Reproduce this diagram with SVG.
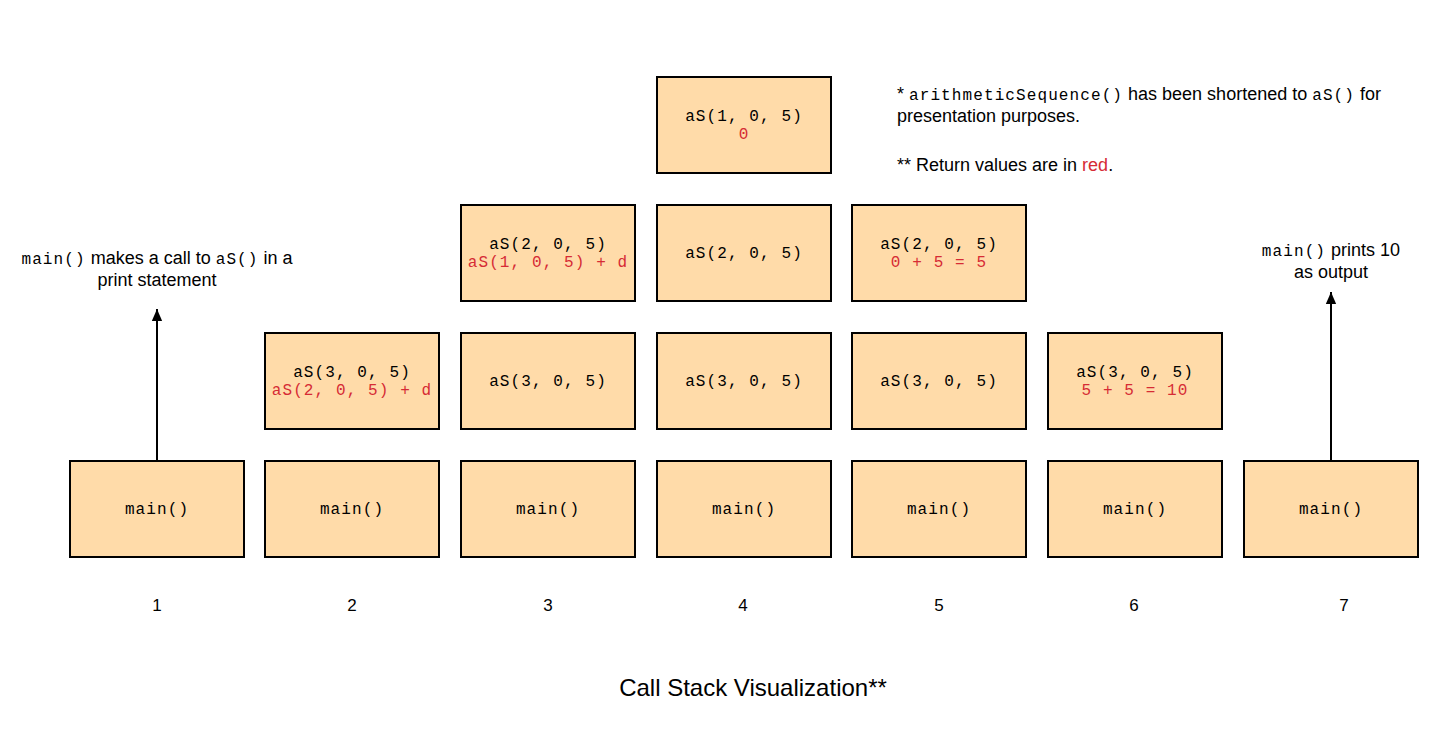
<svg xmlns="http://www.w3.org/2000/svg" width="1446" height="740" viewBox="0 0 1446 740">
<style>
.box{fill:#ffdba9;stroke:#000;stroke-width:2}
.code{font-family:"Liberation Mono",monospace;font-size:16px;letter-spacing:1.1px;fill:#000;text-anchor:middle}
.red{fill:#d62b35}
.sans{font-family:"Liberation Sans",Arial,sans-serif;font-size:18px;fill:#000}
.mono{font-family:"Liberation Mono",monospace;font-size:16px;letter-spacing:1.1px}
.num{font-family:"Liberation Sans",Arial,sans-serif;font-size:17px;fill:#000;text-anchor:middle}
.conn{stroke:#000;stroke-width:2;fill:none}
</style>
<defs>
<marker id="ah" markerWidth="12" markerHeight="14" refX="14" refY="6" orient="auto" markerUnits="userSpaceOnUse" viewBox="0 0 14 12">
<path d="M0,0 L14,6 L0,12 z" fill="#000"/>
</marker>
</defs>
<rect width="1446" height="740" fill="#fff"/>
<g id="connectors">
<line class="conn" x1="157" y1="461" x2="157" y2="309" marker-end="url(#ah)"/>
<line class="conn" x1="1331" y1="461" x2="1331" y2="292" marker-end="url(#ah)"/>
</g>
<g id="main1"><rect class="box" x="70" y="461" width="174" height="96"/><text class="code" x="157" y="514">main()</text></g>
<g id="main2"><rect class="box" x="265" y="461" width="174" height="96"/><text class="code" x="352" y="514">main()</text></g>
<g id="aS3_c2"><rect class="box" x="265" y="333" width="174" height="96"/><text class="code" x="352" y="377">aS(3, 0, 5)</text><text class="code red" x="352" y="395">aS(2, 0, 5) + d</text></g>
<g id="main3"><rect class="box" x="461" y="461" width="174" height="96"/><text class="code" x="548" y="514">main()</text></g>
<g id="aS3_c3"><rect class="box" x="461" y="333" width="174" height="96"/><text class="code" x="548" y="386">aS(3, 0, 5)</text></g>
<g id="aS2_c3"><rect class="box" x="461" y="205" width="174" height="96"/><text class="code" x="548" y="249">aS(2, 0, 5)</text><text class="code red" x="548" y="267">aS(1, 0, 5) + d</text></g>
<g id="main4"><rect class="box" x="657" y="461" width="174" height="96"/><text class="code" x="744" y="514">main()</text></g>
<g id="aS3_c4"><rect class="box" x="657" y="333" width="174" height="96"/><text class="code" x="744" y="386">aS(3, 0, 5)</text></g>
<g id="aS2_c4"><rect class="box" x="657" y="205" width="174" height="96"/><text class="code" x="744" y="258">aS(2, 0, 5)</text></g>
<g id="aS1_c4"><rect class="box" x="657" y="77" width="174" height="96"/><text class="code" x="744" y="121">aS(1, 0, 5)</text><text class="code red" x="744" y="139">0</text></g>
<g id="main5"><rect class="box" x="852" y="461" width="174" height="96"/><text class="code" x="939" y="514">main()</text></g>
<g id="aS3_c5"><rect class="box" x="852" y="333" width="174" height="96"/><text class="code" x="939" y="386">aS(3, 0, 5)</text></g>
<g id="aS2_c5"><rect class="box" x="852" y="205" width="174" height="96"/><text class="code" x="939" y="249">aS(2, 0, 5)</text><text class="code red" x="939" y="267">0 + 5 = 5</text></g>
<g id="main6"><rect class="box" x="1048" y="461" width="174" height="96"/><text class="code" x="1135" y="514">main()</text></g>
<g id="aS3_c6"><rect class="box" x="1048" y="333" width="174" height="96"/><text class="code" x="1135" y="377">aS(3, 0, 5)</text><text class="code red" x="1135" y="395">5 + 5 = 10</text></g>
<g id="main7"><rect class="box" x="1244" y="461" width="174" height="96"/><text class="code" x="1331" y="514">main()</text></g>
<g id="note1">
<text class="sans" x="157" y="264" text-anchor="middle"><tspan class="mono">main()</tspan> makes a call to <tspan class="mono">aS()</tspan> in a</text>
<text class="sans" x="157" y="286" text-anchor="middle">print statement</text>
</g>
<g id="note7">
<text class="sans" x="1331" y="256" text-anchor="middle"><tspan class="mono">main()</tspan> prints 10</text>
<text class="sans" x="1331" y="278" text-anchor="middle">as output</text>
</g>
<g id="legend">
<text class="sans" x="897" y="100">* <tspan class="mono">arithmeticSequence()</tspan> has been shortened to <tspan class="mono">aS()</tspan> for</text>
<text class="sans" x="897" y="122">presentation purposes.</text>
<text class="sans" x="897" y="171">** Return values are in <tspan fill="#d62b35">red</tspan>.</text>
</g>
<g id="numbers">
<text class="num" x="157" y="611">1</text>
<text class="num" x="352" y="611">2</text>
<text class="num" x="548" y="611">3</text>
<text class="num" x="743" y="611">4</text>
<text class="num" x="939" y="611">5</text>
<text class="num" x="1134" y="611">6</text>
<text class="num" x="1344" y="611">7</text>
</g>
<g id="title"><text x="753" y="696" text-anchor="middle" font-family="'Liberation Sans',Arial,sans-serif" font-size="24" fill="#000">Call Stack Visualization**</text></g>
</svg>
